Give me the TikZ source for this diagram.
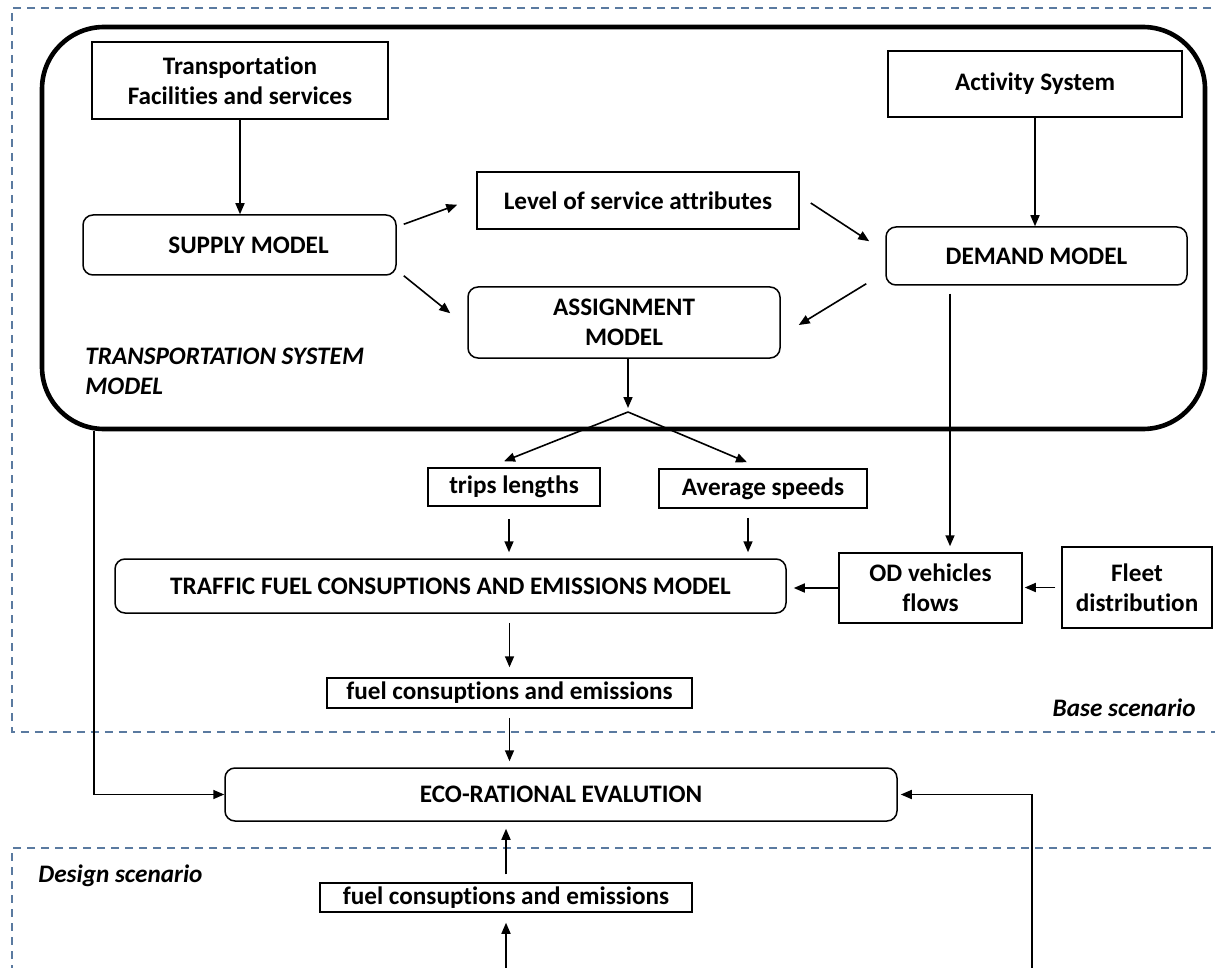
\documentclass[tikz,border=0pt]{standalone}
\usepackage{fontspec}
\setmainfont{Carlito}[Ligatures=CommonOff]
\usetikzlibrary{arrows.meta,calc}
\definecolor{dashblue}{RGB}{90,122,160}
\begin{document}
\begin{tikzpicture}[x=0.5pt,y=-0.5pt,
  every node/.style={font=\fontsize{12.6}{15}\selectfont\bfseries, inner sep=0pt, align=center},
  box/.style={draw, line width=0.75pt},
  rbox/.style={box, rounded corners=5pt},
  sysbox/.style={draw, line width=2.3pt, rounded corners=31pt},
  arr/.style={line width=0.8pt, -{Triangle[length=5.5pt,width=4.5pt]}},
  scen/.style={draw=dashblue, line width=1pt, dash pattern=on 4pt off 3pt},
  lab/.style={font=\fontsize{12.6}{15}\selectfont\bfseries\itshape}]
\useasboundingbox (0,0) rectangle (1215,968);
% scenario frames
\draw[scen] (1225,8) -- (12,8) -- (12,732) -- (1225,732);
\draw[scen] (1225,848) -- (12,848) -- (12,980);
% system model container
\node[sysbox, minimum width=581.5pt, minimum height=201pt] (sys) at (623.5,228) {};
% nodes
\node[box, minimum width=148pt, minimum height=38.5pt] (tfs) at (240,80.5) {Transportation\\Facilities and services};
\node[box, minimum width=147pt, minimum height=33pt] (act) at (1035,84) {Activity System};
\node[rbox, minimum width=156.5pt, minimum height=30pt] (supply) at (239.5,245) {\hspace*{9pt}SUPPLY MODEL};
\node[box, minimum width=161pt, minimum height=28.5pt] (los) at (638,200.5) {Level of service attributes};
\node[rbox, minimum width=150.5pt, minimum height=29pt] (demand) at (1036.5,256) {DEMAND MODEL};
\node[rbox, minimum width=156pt, minimum height=35.5pt] (assign) at (624,322.5) {ASSIGNMENT\\MODEL};
\node[box, minimum width=86pt, minimum height=19pt] (trips) at (514,487) {trips lengths};
\node[box, minimum width=104pt, minimum height=19.5pt] (avg) at (763,488.5) {Average speeds};
\node[rbox, minimum width=335.5pt, minimum height=27pt] (traffic) at (450.5,586) {TRAFFIC FUEL CONSUPTIONS AND EMISSIONS MODEL};
\node[box, minimum width=91.5pt, minimum height=35pt] (od) at (930.5,588) {OD vehicles\\flows};
\node[box, minimum width=75pt, minimum height=40.5pt] (fleet) at (1137,587.5) {Fleet\\distribution};
\node[box, minimum width=182.5pt, minimum height=15pt] (fuel1) at (509.5,693) {fuel consuptions and emissions};
\node[rbox, minimum width=336pt, minimum height=26.5pt] (eco) at (561,794.5) {ECO-RATIONAL EVALUTION};
\node[box, minimum width=186pt, minimum height=14.5pt] (fuel2) at (506,897.5) {fuel consuptions and emissions};
% labels
\node[lab, anchor=north west, align=left] (tsm) at (85,348) {TRANSPORTATION SYSTEM\\MODEL};
\node[lab, anchor=east] (base) at (1196,708) {Base scenario};
\node[lab, anchor=west] (des) at (38,876) {Design scenario};
% connectors
\draw[arr] (tfs.south) -- (tfs.south |- supply.north);
\draw[arr] ($(supply.north east)+(7,10)$) -- ($(los.south west)+(-19,-25)$);
\draw[arr] ($(supply.south east)+(7,0)$) -- ($(assign.north west)+(-17,27)$);
\draw[arr] ($(los.east)+(11,2.5)$) -- ($(demand.north west)+(-16,15)$);
\draw[arr] ($(demand.south west)+(-19,-2)$) -- ($(assign.east)+(18,2.5)$);
\draw[arr] (act.south) -- (act.south |- demand.north);
\coordinate (split) at (628,412);
\draw[arr, shorten >=2pt] (split |- assign.south) -- (split);
\draw[arr] (split) -- ($(trips.north)+(-10,-6)$);
\draw[arr] (split) -- ($(avg.north)+(-16,-6)$);
\coordinate (t1) at ($(trips.south)+(-5,0)$);
\draw[arr, shorten <=6pt, shorten >=3pt] (t1) -- (t1 |- traffic.north);
\coordinate (a1) at ($(avg.south)+(-15,0)$);
\draw[arr, shorten <=4.5pt, shorten >=3pt] (a1) -- (a1 |- traffic.north);
\coordinate (d1) at ($(od.north)+(19.5,0)$);
\draw[arr, shorten <=4pt, shorten >=3pt] (d1 |- demand.south) -- (d1);
\draw[arr, shorten <=3pt, shorten >=1pt] (fleet.west) -- (fleet.west -| od.east);
\draw[arr, shorten >=3.5pt] (od.west) -- (od.west -| traffic.east);
\draw[arr, shorten <=4.5pt, shorten >=5pt] (fuel1.north |- traffic.south) -- (fuel1.north);
\draw[arr, shorten <=4.5pt, shorten >=3pt] (fuel1.south) -- (fuel1.south |- eco.north);
\draw[arr, shorten <=4pt, shorten >=3.5pt] (fuel2.north) -- (fuel2.north |- eco.south);
\coordinate (b0) at (506,975);
\draw[arr, shorten >=5pt] (b0) -- (fuel2.south);
\coordinate (r0) at (1032,975);
\draw[arr, shorten >=1.5pt] (r0) -- (r0 |- eco.east) -- (eco.east);
\coordinate (l0) at (94,0);
\draw[arr] (l0 |- sys.south) -- (l0 |- eco.west) -- (eco.west);
\end{tikzpicture}
\end{document}
